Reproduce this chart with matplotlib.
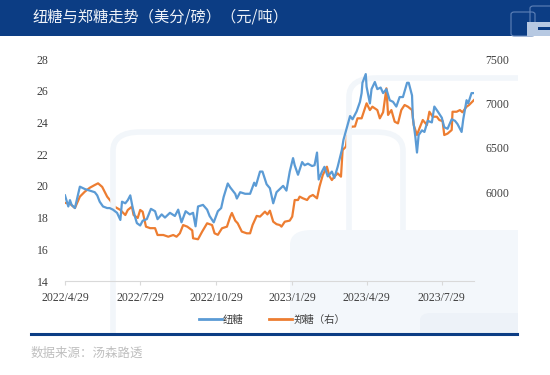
import matplotlib
matplotlib.use('Agg')
import matplotlib.pyplot as plt
import pandas as pd
from matplotlib.patches import FancyBboxPatch, Rectangle
from matplotlib.lines import Line2D

# ICE raw sugar (cents/lb), days counted from 2022-04-29
blue_day = [0, 4, 6, 8, 12, 16, 18, 24, 30, 36, 39, 42, 46, 51, 54, 58, 63, 67, 69, 73,
            76, 79, 82, 85, 87, 91, 94, 99, 104, 109, 112, 117, 121, 127, 133, 137, 141, 146, 151, 155,
            158, 161, 167, 172, 175, 180, 185, 189, 192, 197, 200, 206, 208, 212, 218, 224, 229, 231, 236, 239,
            244, 248, 252, 256, 264, 268, 272, 276, 278, 282, 287, 290, 294, 299, 302, 305, 307, 311, 314, 318,
            323, 326, 330, 335, 337, 341, 345, 348, 353, 357, 359, 360, 364, 365, 369, 371, 375, 378, 382, 385,
            389, 393, 397, 401, 405, 409, 414, 416, 420, 421, 424, 426, 428, 432, 435, 439, 444, 447, 451, 456,
            459, 463, 468, 472, 475, 480, 482, 486, 488, 492, 495]
blue_val = [19.4, 18.7, 19.1, 18.8, 18.6, 19.5, 19.95, 19.8, 19.7, 19.6, 19.4, 19.0, 18.7, 18.6, 18.6, 18.5, 18.3, 17.85, 19.0, 18.9,
            19.1, 19.4, 18.6, 18.0, 17.65, 17.5, 17.8, 17.9, 18.55, 18.4, 17.9, 18.2, 18.0, 18.3, 18.1, 18.5, 17.7, 18.4, 18.2, 18.3,
            17.45, 18.7, 18.8, 18.5, 18.1, 17.7, 18.4, 18.6, 19.3, 20.15, 19.9, 19.5, 19.2, 19.6, 19.5, 19.5, 20.2, 20.0, 20.9, 20.9,
            20.1, 19.85, 18.9, 19.6, 20.0, 19.7, 20.9, 21.75, 21.3, 20.7, 21.5, 21.3, 21.4, 21.25, 21.3, 22.1, 20.4, 20.9, 21.2, 20.6,
            20.9, 20.5, 21.2, 22.25, 22.9, 23.65, 24.4, 24.2, 24.7, 25.3, 25.85, 26.5, 27.05, 26.25, 25.2, 26.1, 26.55, 26.1, 26.2, 25.85,
            26.1, 25.4, 25.3, 25.0, 25.6, 25.6, 26.5, 26.5, 25.7, 24.3, 23.1, 22.1, 23.2, 23.5, 23.4, 24.1, 24.0, 25.0, 24.7, 24.3,
            23.7, 23.6, 24.2, 24.1, 23.9, 23.4, 24.2, 25.4, 25.2, 25.85, 25.85]

# Zhengzhou sugar (yuan/t), right axis
orange_day = [0, 6, 12, 18, 24, 30, 36, 40, 45, 51, 57, 60, 67, 73, 76, 81, 83, 88, 91, 94,
              98, 103, 109, 112, 119, 125, 131, 135, 139, 143, 148, 154, 155, 161, 166, 172, 178, 181, 185, 190,
              196, 200, 202, 206, 209, 214, 220, 224, 227, 232, 236, 242, 245, 248, 252, 256, 260, 262, 266, 272,
              275, 278, 282, 284, 288, 293, 296, 300, 305, 308, 312, 317, 320, 323, 326, 330, 334, 336, 340, 342,
              347, 351, 354, 359, 363, 365, 369, 372, 378, 381, 385, 389, 391, 395, 399, 403, 407, 411, 415, 420,
              422, 426, 429, 433, 438, 441, 445, 450, 453, 457, 459, 463, 468, 469, 474, 478, 481, 486, 489, 495]
orange_val = [5880, 5870, 5822, 5950, 6006, 6050, 6081, 6100, 6060, 5950, 5880, 5837, 5800, 5743, 5800, 5837, 5743, 5710, 5800, 5780,
              5612, 5595, 5595, 5518, 5518, 5499, 5518, 5499, 5537, 5630, 5612, 5570, 5481, 5470, 5556, 5650, 5630, 5537, 5520, 5594,
              5612, 5725, 5766, 5680, 5650, 5556, 5537, 5537, 5630, 5733, 5725, 5781, 5750, 5792, 5668, 5640, 5630, 5612, 5668, 5680,
              5725, 5912, 5912, 5950, 5931, 5912, 5950, 5969, 5931, 6062, 6194, 6287, 6180, 6137, 6175, 6212, 6175, 6475, 6513, 6681,
              6738, 6740, 6832, 6832, 6945, 7001, 6925, 6963, 6925, 6832, 6900, 7170, 6870, 6925, 6794, 6775, 6925, 6982, 6963, 6925,
              6757, 6644, 6720, 6813, 6757, 6906, 6850, 6850, 6813, 6800, 6644, 6660, 6700, 6906, 6906, 6925, 6900, 6963, 6982, 7038]

tick_dates = ['2022-04-29', '2022-07-29', '2022-10-29', '2023-01-29', '2023-04-29', '2023-07-29']
tick_labels = ['2022/4/29', '2022/7/29', '2022/10/29', '2023/1/29', '2023/4/29', '2023/7/29']

base = pd.Timestamp('2022-04-29')
blue_dates = base + pd.to_timedelta(blue_day, unit='D')
orange_dates = base + pd.to_timedelta(orange_day, unit='D')

CJK = ['Noto Sans CJK SC', 'DejaVu Sans']
NUM = 'Liberation Serif'
BLUE = '#5B9BD5'
ORANGE = '#ED7D31'
NAVY = '#0C3D84'
WM = '#F2F6FA'

fig = plt.figure(figsize=(5.5, 3.75), dpi=100)
W, H = 550, 375

def fx(x): return x / W
def fy(y): return 1 - y / H

# header band + title
fig.patches.append(Rectangle((0, fy(36)), 1, 36 / H, transform=fig.transFigure,
                             facecolor=NAVY, edgecolor='none', zorder=0))
fig.text(fx(32), fy(17), '纽糖与郑糖走势（美分/磅）（元/吨）', family=CJK, color='#EEF2F8',
         fontsize=11, va='center', ha='left')

# small logo at top right
fig.patches.append(FancyBboxPatch((fx(511), fy(36)), fx(24), 24 / H, boxstyle='round,pad=0,rounding_size=0.006',
                                  transform=fig.transFigure, facecolor='none', edgecolor='#5F82B8', lw=0.8))
fig.patches.append(FancyBboxPatch((fx(530), fy(24)), fx(24), 18 / H, boxstyle='round,pad=0,rounding_size=0.006',
                                  transform=fig.transFigure, facecolor='none', edgecolor='#5F82B8', lw=0.8))
fig.patches.append(Rectangle((fx(527), fy(36)), fx(23), 14 / H, transform=fig.transFigure,
                             facecolor='#B7C9E2', edgecolor='none'))
fig.patches.append(Rectangle((fx(538), fy(30)), fx(12), 3 / H, transform=fig.transFigure,
                             facecolor=NAVY, edgecolor='none'))

# faint background watermark shapes, clipped to the chart panel
clip = Rectangle((0, fy(334)), fx(518), (334 - 37) / H, transform=fig.transFigure)
marks = [
    FancyBboxPatch((fx(113), fy(400)), fx(290), 268 / H, boxstyle='round,pad=0,rounding_size=0.05',
                   facecolor='none', edgecolor=WM, lw=4),
    FancyBboxPatch((fx(349), fy(400)), fx(230), 322 / H, boxstyle='round,pad=0,rounding_size=0.05',
                   facecolor='none', edgecolor=WM, lw=4),
    FancyBboxPatch((fx(290), fy(360)), fx(260), 130 / H, boxstyle='round,pad=0,rounding_size=0.04',
                   facecolor='#F3F7FB', edgecolor='none'),
    FancyBboxPatch((fx(420), fy(360)), fx(130), 47 / H, boxstyle='round,pad=0,rounding_size=0.02',
                   facecolor='#EDF2F8', edgecolor='none'),
]
for p in marks:
    p.set_transform(fig.transFigure)
    p.set_zorder(0)
    p.set_clip_path(clip)
    fig.patches.append(p)

ax = fig.add_axes([fx(65), fy(281), fx(474 - 65), (281 - 59) / H])
ax.patch.set_alpha(0)
ax2 = ax.twinx()

ax.plot(blue_dates, blue_val, color=BLUE, lw=1.6, zorder=3)
ax2.plot(orange_dates, orange_val, color=ORANGE, lw=1.6, zorder=2)
ax.set_zorder(ax2.get_zorder() + 1)

ax.set_ylim(14, 28)
ax.set_yticks(range(14, 29, 2))
ax2.set_ylim(5000, 7500)
ax2.set_yticks(range(5000, 7501, 500))
ax.set_xlim(base, base + pd.Timedelta(days=495))
ax.set_xticks(pd.to_datetime(tick_dates))
ax.set_xticklabels(tick_labels)

for a in (ax, ax2):
    for s in ('top', 'left', 'right'):
        a.spines[s].set_visible(False)
    a.spines['bottom'].set_color('#D9D9D9')
ax2.spines['bottom'].set_visible(False)

ax.tick_params(axis='y', length=0, pad=12, labelsize=8.5, labelcolor='#404040')
ax2.tick_params(axis='y', length=0, pad=8, labelsize=8.5, labelcolor='#404040')
ax.tick_params(axis='x', length=3, color='#D9D9D9', pad=5, labelsize=8.5, labelcolor='#404040')
for lbl in ax.get_xticklabels() + ax.get_yticklabels() + ax2.get_yticklabels():
    lbl.set_family(NUM)

handles = [Line2D([], [], color=BLUE, lw=2), Line2D([], [], color=ORANGE, lw=2)]
fig.legend(handles, ['纽糖', '郑糖（右）'], loc='center', bbox_to_anchor=(fx(272), fy(320)), ncol=2,
           frameon=False, prop={'family': CJK, 'size': 7.5}, handlelength=2.2, handletextpad=0.1,
           columnspacing=2.5, labelcolor='#404040')

# bottom rule + source
fig.add_artist(Line2D([fx(31), fx(517)], [fy(334), fy(334)], color=NAVY, lw=2.2))
fig.text(fx(31), fy(353), '数据来源：汤森路透', family=CJK, color='#BFBFBF', fontsize=9, va='center')

fig.savefig('out.png', dpi=100)
